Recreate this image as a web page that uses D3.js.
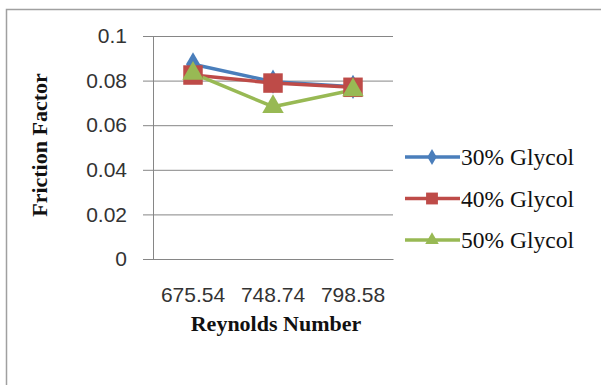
<!DOCTYPE html>
<html>
<head>
<meta charset="utf-8">
<script src="https://cdn.jsdelivr.net/npm/d3@7"></script>
<style>
  html, body { margin: 0; padding: 0; background: #fff; }
  svg { display: block; }
</style>
</head>
<body>
<svg id="chart" width="601" height="385"></svg>
<script>
// Reynolds numbers on the category axis
const categories = ["675.54", "748.74", "798.58"];
// Friction factor per glycol concentration
const glycol30 = [0.0873, 0.0795, 0.0772];
const glycol40 = [0.0825, 0.0789, 0.0770];
const glycol50 = [0.0832, 0.0683, 0.0758];
const seriesNames = ["30% Glycol", "40% Glycol", "50% Glycol"];
const yTicks = [0, 0.02, 0.04, 0.06, 0.08, 0.1];

const series = [
  { name: seriesNames[0], values: glycol30, color: "#4A7EBB", marker: d3.symbolDiamond, size: 170, legendSize: 75 },
  { name: seriesNames[1], values: glycol40, color: "#BE4B48", marker: d3.symbolSquare, size: 380, legendSize: 140 },
  { name: seriesNames[2], values: glycol50, color: "#98B954", marker: d3.symbolTriangle, size: 200, legendSize: 80 }
];

const svg = d3.select("#chart");

// Outer chart frame
svg.append("rect")
  .attr("x", 6.5).attr("y", 9.5)
  .attr("width", 620).attr("height", 400)
  .attr("fill", "none").attr("stroke", "#a0a0a0").attr("stroke-width", 1.5);

const plot = { left: 153, right: 393, top: 36, bottom: 259 };

const x = d3.scaleBand().domain(categories).range([plot.left, plot.right]);
const y = d3.scaleLinear().domain([0, 0.1]).range([plot.bottom, plot.top]);

// Horizontal gridlines with outward tick marks
const yAxis = d3.axisLeft(y)
  .tickValues(yTicks)
  .tickSize(-(plot.right - plot.left))
  .tickSizeOuter(0)
  .tickPadding(26)
  .tickFormat(d => d === 0 ? "0" : String(+d.toFixed(2)));

const gy = svg.append("g").attr("transform", `translate(${plot.left},0)`).call(yAxis);
gy.select(".domain").attr("stroke", "#868686");
gy.selectAll(".tick line").attr("stroke", "#868686").attr("x1", -10);
gy.selectAll(".tick text")
  .attr("font-family", "Liberation Sans, Arial, sans-serif")
  .attr("font-size", 21).attr("fill", "#333");

// Category axis
const xAxis = d3.axisBottom(x).tickSize(0).tickPadding(28);
const gx = svg.append("g").attr("transform", `translate(0,${plot.bottom})`).call(xAxis);
gx.select(".domain").attr("stroke", "#868686");
gx.selectAll(".tick text")
  .attr("font-family", "Liberation Sans, Arial, sans-serif")
  .attr("font-size", 21).attr("fill", "#333");

const cx = c => x(c) + x.bandwidth() / 2;

// Lines and markers
const line = d3.line().x((d, i) => cx(categories[i])).y(d => y(d));
series.forEach(s => {
  svg.append("path")
    .attr("d", line(s.values))
    .attr("fill", "none").attr("stroke", s.color)
    .attr("stroke-width", 3.5).attr("stroke-linejoin", "round");
});
series.forEach(s => {
  svg.append("g").selectAll("path")
    .data(s.values)
    .join("path")
    .attr("transform", (d, i) => `translate(${cx(categories[i])},${y(d)})`)
    .attr("d", d3.symbol().type(s.marker).size(s.size))
    .attr("fill", s.color);
});

// Axis titles
svg.append("text")
  .attr("x", 276).attr("y", 331)
  .attr("text-anchor", "middle")
  .attr("font-family", "Liberation Serif, Times New Roman, serif")
  .attr("font-weight", "bold").attr("font-size", 22).attr("fill", "#111")
  .text("Reynolds Number");

svg.append("text")
  .attr("transform", "translate(47,145) rotate(-90)")
  .attr("text-anchor", "middle")
  .attr("font-family", "Liberation Serif, Times New Roman, serif")
  .attr("font-weight", "bold").attr("font-size", 22).attr("fill", "#111")
  .text("Friction Factor");

// Legend
const legend = svg.append("g");
series.forEach((s, i) => {
  const ly = 157 + i * 41.5;
  const g = legend.append("g").attr("transform", `translate(0,${ly})`);
  g.append("line").attr("x1", 405).attr("x2", 460).attr("y1", 0).attr("y2", 0)
    .attr("stroke", s.color).attr("stroke-width", 3.5);
  g.append("path").attr("transform", "translate(432,0)")
    .attr("d", d3.symbol().type(s.marker).size(s.legendSize))
    .attr("fill", s.color);
  g.append("text").attr("x", 461).attr("y", 0).attr("dy", "0.34em")
    .attr("font-family", "Liberation Serif, Times New Roman, serif")
    .attr("font-size", 23.5).attr("fill", "#111")
    .text(s.name);
});
</script>
</body>
</html>
